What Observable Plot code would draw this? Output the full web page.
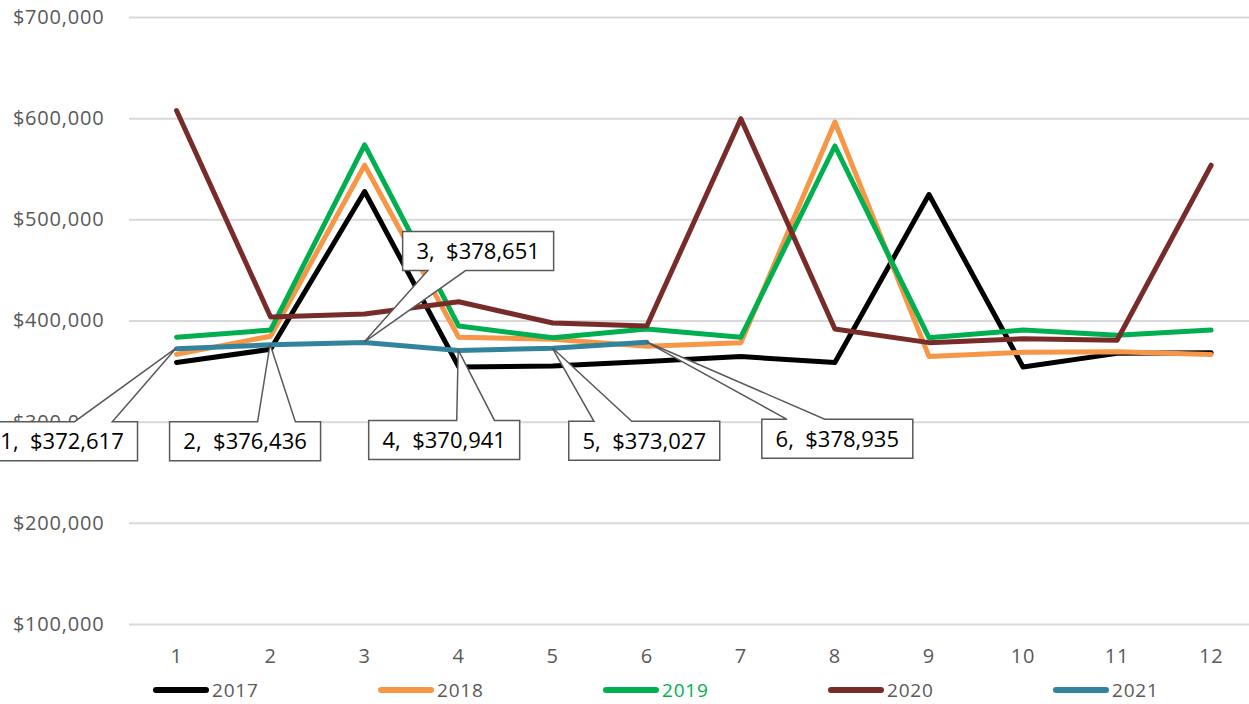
<!DOCTYPE html>
<html><head><meta charset="utf-8">
<script src="https://cdn.jsdelivr.net/npm/d3@7"></script>
<script src="https://cdn.jsdelivr.net/npm/@observablehq/plot@0.6"></script>
<style>
html,body{margin:0;padding:0;background:#fff;overflow:hidden;}
#chart{width:1249px;height:704px;position:relative;font-family:"Open Sans",sans-serif;}
#chart svg{display:block;}
.legend{position:absolute;top:676px;left:0;width:1249px;height:28px;display:flex;padding-left:153px;box-sizing:border-box;}
.item{width:225px;flex:0 0 225px;display:flex;align-items:center;font-size:19px;color:#595959;letter-spacing:0.8px;}
.sw{width:56px;height:6px;border-radius:3px;margin-right:3px;}
</style></head><body><div id="chart"></div>
<script>
// ---- data ----
const months = [1,2,3,4,5,6,7,8,9,10,11,12];
const years = ["2017","2018","2019","2020","2021"];
const v2017 = [359000, 372000, 528000, 354600, 355600, 360000, 364800, 359000, 525000, 354600, 368000, 368500];
const v2018 = [367000, 385000, 554000, 384000, 382000, 375000, 378600, 596700, 365000, 369000, 369700, 367000];
const v2019 = [384000, 391000, 574000, 395000, 383500, 392000, 384000, 573000, 383500, 391000, 386000, 391000];
const v2020 = [608000, 404000, 407000, 419000, 398000, 395000, 600000, 392000, 378600, 382500, 381000, 554000];
const v2021 = [372617, 376436, 378651, 370941, 373027, 378935];
const yTicks = [100000, 200000, 300000, 400000, 500000, 600000, 700000];
const colors = ["#000000", "#F79646", "#00B050", "#772C2A", "#31849B"];
const legendTextColors = ["#595959", "#595959", "#00B050", "#595959", "#595959"];

// callout layout (pixel offsets of label box centre from its data point)
const calloutDx = [-114, -25, 114, -14, 92, 191];
const calloutDy = [93, 97, -91, 90, 93, 97];

const series = [v2017, v2018, v2019, v2020, v2021];
const rows = [];
series.forEach((vals, i) => vals.forEach((v, j) => rows.push({year: years[i], month: months[j], value: v})));
const callouts = v2021.map((v, j) => ({month: months[j], value: v, dx: calloutDx[j], dy: calloutDy[j]}));

const fmt = d3.format(",");

function calloutMark(index, scales) {
  const g = d3.create("svg:g");
  const W = 151, H = 39;
  for (const c of callouts) {
    const ax = scales.x(c.month), ay = scales.y(c.value);
    const cx = ax + c.dx, cy = ay + c.dy;
    const L = cx - W / 2, R = cx + W / 2, T = cy - H / 2, B = cy + H / 2;
    const left = ax < cx;
    const b1 = L + W * (left ? 0.167 : 0.583), b2 = L + W * (left ? 0.417 : 0.833);
    let p;
    if (cy > ay) {
      p = `M${L},${T}L${b1},${T}L${ax},${ay}L${b2},${T}L${R},${T}L${R},${B}L${L},${B}Z`;
    } else {
      p = `M${L},${T}L${R},${T}L${R},${B}L${b2},${B}L${ax},${ay}L${b1},${B}L${L},${B}Z`;
    }
    g.append("path").attr("d", p).attr("fill", "#fff").attr("stroke", "#595959").attr("stroke-width", 1.5).attr("stroke-linejoin", "miter");
    g.append("text").attr("x", cx).attr("y", cy).attr("dy", "0.36em")
      .attr("text-anchor", "middle").attr("fill", "#000")
      .style("font-size", "22px").style("letter-spacing", "0px")
      .text(`${c.month},\u00A0 $${fmt(c.value)}`);
  }
  return g.node();
}

const plot = Plot.plot({
  width: 1249,
  height: 670,
  marginLeft: 129,
  marginRight: 0,
  marginTop: 17,
  marginBottom: 46,
  style: {fontFamily: "'Open Sans', sans-serif", fontSize: "20px", color: "#595959", background: "#fff", letterSpacing: "0.8px", overflow: "visible"},
  x: {type: "linear", domain: [0.5, 12.408], ticks: months, tickFormat: d => String(d), tickSize: 0, tickPadding: 24, label: null},
  y: {domain: [100000, 700000], ticks: yTicks, tickFormat: d => "$" + fmt(d), tickSize: 0, tickPadding: 25, label: null},
  color: {domain: years, range: colors},
  marks: [
    Plot.ruleY(yTicks, {stroke: "#D9D9D9", strokeWidth: 2}),
    Plot.line(rows, {x: "month", y: "value", z: "year", stroke: "year", strokeWidth: 5, strokeLinejoin: "round", strokeLinecap: "round"}),
    calloutMark
  ]
});

const chart = document.getElementById("chart");
chart.appendChild(plot);

const legend = document.createElement("div");
legend.className = "legend";
years.forEach((y, i) => {
  const it = document.createElement("div");
  it.className = "item";
  const sw = document.createElement("span");
  sw.className = "sw";
  sw.style.background = colors[i];
  const t = document.createElement("span");
  t.textContent = y;
  t.style.color = legendTextColors[i];
  it.appendChild(sw); it.appendChild(t);
  legend.appendChild(it);
});
chart.appendChild(legend);
</script>
</body></html>
